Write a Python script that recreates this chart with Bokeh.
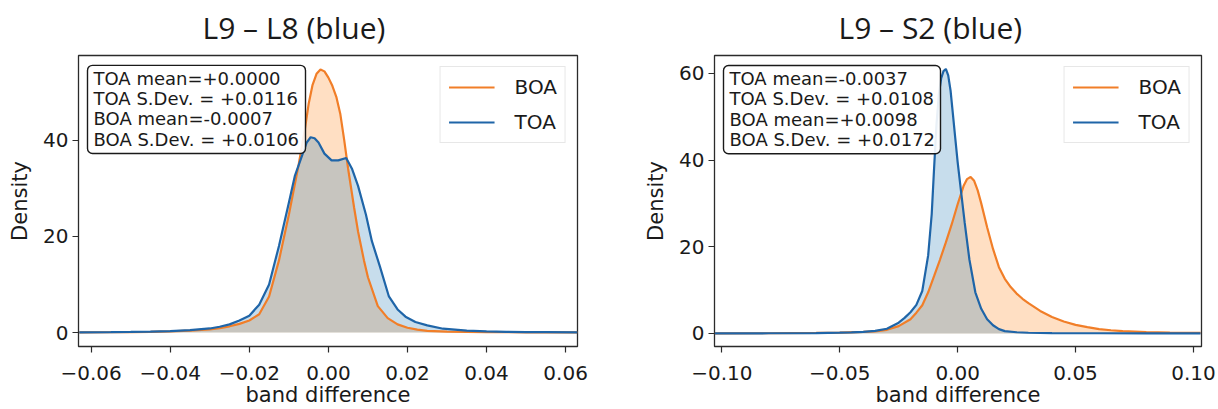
from bokeh.plotting import figure
from bokeh.models import Range1d, FixedTicker, CustomJSTickFormatter, Label, BoxAnnotation
from bokeh.layouts import row
from bokeh.embed import file_html
from bokeh.resources import INLINE

# ---------------- data ----------------
titles = ["L9 \u2013 L8 (blue)", "L9 \u2013 S2 (blue)"]
series_names = ["BOA", "TOA"]
x_label = "band difference"
y_label = "Density"

# Left panel: L9 - L8
l8_boa_x = [-0.063, -0.055, -0.05, -0.045, -0.04, -0.035, -0.03, -0.0275, -0.025, -0.0225,
            -0.02, -0.0175, -0.015, -0.0125, -0.01, -0.0075, -0.006, -0.005, -0.004, -0.003,
            -0.002, -0.001, 0.0, 0.001, 0.002, 0.003, 0.004, 0.005, 0.0065, 0.0075, 0.009,
            0.01, 0.0125, 0.015, 0.0175, 0.02, 0.0225, 0.025, 0.03, 0.035, 0.04, 0.05, 0.063]
l8_boa_y = [0.04, 0.07, 0.1, 0.16, 0.25, 0.4, 0.65, 0.9, 1.3, 1.8,
            2.5, 3.8, 7.5, 15.0, 24.5, 35.0, 42.0, 47.5, 51.5, 53.8,
            54.7, 54.3, 53.0, 51.3, 49.0, 45.5, 40.0, 34.0, 26.0, 21.0, 15.0,
            11.5, 5.5, 3.0, 1.7, 1.0, 0.6, 0.35, 0.2, 0.12, 0.08, 0.05, 0.03]
l8_toa_x = [-0.063, -0.055, -0.05, -0.045, -0.04, -0.035, -0.03, -0.0275, -0.025, -0.0225,
            -0.02, -0.0175, -0.015, -0.0125, -0.01, -0.0085, -0.007, -0.0055, -0.0045, -0.0035,
            -0.0025, -0.001, 0.0008, 0.0025, 0.0045, 0.006, 0.0075, 0.0095, 0.011, 0.013, 0.0153,
            0.0175, 0.0195, 0.022, 0.025, 0.029, 0.035, 0.04, 0.045, 0.05, 0.055, 0.063]
l8_toa_y = [0.05, 0.08, 0.12, 0.2, 0.3, 0.5, 0.85, 1.2, 1.7, 2.5,
            3.5, 5.8, 10.0, 18.0, 27.0, 32.5, 36.0, 39.5, 40.6, 40.4,
            39.5, 37.2, 35.8, 35.8, 36.3, 34.0, 30.5, 24.5, 19.0, 13.8, 7.5,
            4.8, 3.3, 2.2, 1.5, 0.8, 0.4, 0.25, 0.15, 0.1, 0.08, 0.05]

# Right panel: L9 - S2
s2_boa_x = [-0.103, -0.08, -0.06, -0.05, -0.04, -0.035, -0.03, -0.025, -0.02, -0.0175,
            -0.015, -0.0125, -0.01, -0.0075, -0.005, -0.0025, 0.0, 0.0025, 0.004, 0.0055,
            0.007, 0.0085, 0.01, 0.0125, 0.015, 0.0175, 0.02, 0.0225, 0.025, 0.0275, 0.03,
            0.035, 0.04, 0.045, 0.05, 0.055, 0.06, 0.065, 0.07, 0.08, 0.09, 0.103]
s2_boa_y = [0.03, 0.06, 0.12, 0.2, 0.35, 0.5, 0.85, 1.7, 3.3, 4.8,
            6.5, 9.5, 13.2, 17.0, 21.0, 25.2, 29.8, 34.0, 35.6, 36.1,
            35.2, 33.0, 30.0, 24.5, 19.5, 15.3, 12.6, 10.7, 9.2, 8.0, 7.0,
            5.2, 3.8, 2.75, 2.0, 1.45, 1.0, 0.75, 0.55, 0.32, 0.2, 0.12]
s2_toa_x = [-0.103, -0.08, -0.06, -0.05, -0.045, -0.04, -0.035, -0.03, -0.025, -0.0225,
            -0.02, -0.0175, -0.015, -0.0125, -0.011, -0.01, -0.009, -0.008, -0.007, -0.006,
            -0.005, -0.004, -0.003, -0.002, -0.001, 0.0, 0.0015, 0.003, 0.005, 0.0075,
            0.01, 0.0125, 0.015, 0.0175, 0.02, 0.025, 0.03, 0.04, 0.06, 0.08, 0.103]
s2_toa_y = [0.03, 0.05, 0.1, 0.18, 0.25, 0.38, 0.6, 1.1, 2.5, 3.6,
            4.9, 6.6, 9.8, 18.0, 27.5, 38.0, 48.0, 55.0, 58.8, 60.5,
            61.0, 59.5, 56.0, 50.5, 45.0, 39.5, 32.5, 25.5, 17.0, 9.5,
            5.7, 3.3, 1.9, 1.0, 0.55, 0.28, 0.17, 0.1, 0.05, 0.03, 0.02]

stats_l8 = ["TOA mean=+0.0000", "TOA S.Dev. = +0.0116", "BOA mean=-0.0007", "BOA S.Dev. = +0.0106"]
stats_s2 = ["TOA mean=-0.0037", "TOA S.Dev. = +0.0108", "BOA mean=+0.0098", "BOA S.Dev. = +0.0172"]

l8_xticks = [-0.06, -0.04, -0.02, 0.0, 0.02, 0.04, 0.06]
l8_yticks = [0, 20, 40]
s2_xticks = [-0.10, -0.05, 0.0, 0.05, 0.10]
s2_yticks = [0, 20, 40, 60]

l8_xrange = (-0.0632, 0.0630)
l8_yrange = (-2.9, 57.6)
s2_xrange = (-0.1031, 0.1034)
s2_yrange = (-3.0, 64.1)

# ---------------- styling ----------------
ORANGE = "#f17e28"
BLUE = "#1f65a8"
ORANGE_FILL = "#ff7f0e"
BLUE_FILL = "#1f77b4"
TICK_FONT = "DejaVu Sans"
TEXT = "#1a1a1a"


def make_panel(title, boa_x, boa_y, toa_x, toa_y, stats, xticks, yticks, xr, yr,
               width, border_l, border_r, border_t, title_offset, box_w):
    border_b = 409 - 348 + (1 if border_t == 53 else 0)
    p = figure(width=width, height=409, x_range=Range1d(*xr), y_range=Range1d(*yr),
               output_backend="svg", toolbar_location=None,
               min_border_left=border_l, min_border_right=border_r,
               min_border_top=border_t, min_border_bottom=border_b)
    p.background_fill_color = "white"
    p.border_fill_color = "white"
    p.grid.visible = False
    p.outline_line_color = "#2b2b2b"
    p.outline_line_width = 1.3

    p.title.text = title
    p.title.align = "left"
    p.title.offset = title_offset
    p.title.vertical_align = "top"
    p.title.text_font = "Open Sans"
    p.title.text_font_size = "30px"
    p.title.text_font_style = "normal"
    p.title.text_color = TEXT
    p.title.standoff = 11

    for ax in (p.xaxis[0], p.yaxis[0]):
        ax.axis_line_color = None
        ax.major_tick_line_color = "#2b2b2b"
        ax.major_tick_line_width = 1.2
        ax.major_tick_out = 6
        ax.major_tick_in = 0
        ax.minor_tick_line_color = None
        ax.major_label_text_font = TICK_FONT
        ax.major_label_text_font_size = "20px"
        ax.major_label_text_color = TEXT
        ax.axis_label_text_font = TICK_FONT
        ax.axis_label_text_font_size = "21px"
        ax.axis_label_text_font_style = "normal"
        ax.axis_label_text_color = TEXT

    p.xaxis.ticker = FixedTicker(ticks=xticks)
    p.yaxis.ticker = FixedTicker(ticks=yticks)
    p.xaxis.formatter = CustomJSTickFormatter(
        code="return (tick < -1e-9 ? '\\u2212' : '') + Math.abs(tick).toFixed(2);")
    p.yaxis.formatter = CustomJSTickFormatter(code="return Math.round(tick).toString();")
    p.xaxis.axis_label = x_label
    p.yaxis.axis_label = y_label
    p.xaxis.major_label_standoff = 13
    p.xaxis.axis_label_standoff = 0
    p.xaxis.axis_label_text_line_height = 0.75
    p.yaxis.major_label_standoff = 4
    p.yaxis.axis_label_standoff = 8

    # filled KDE areas
    p.varea(x=boa_x, y1=[0] * len(boa_x), y2=boa_y, fill_color=ORANGE_FILL, fill_alpha=0.25)
    p.varea(x=toa_x, y1=[0] * len(toa_x), y2=toa_y, fill_color=BLUE_FILL, fill_alpha=0.25)
    p.line(boa_x, boa_y, line_color=ORANGE, line_width=2.2, legend_label=series_names[0])
    p.line(toa_x, toa_y, line_color=BLUE, line_width=2.2, legend_label=series_names[1])

    lg = p.legend[0]
    lg.location = "top_right"
    lg.margin = 11
    lg.padding = 8
    lg.spacing = 11
    lg.glyph_width = 46
    lg.glyph_height = 20
    lg.label_height = 20
    lg.label_standoff = 20
    lg.label_text_font = TICK_FONT
    lg.label_text_font_size = "20px"
    lg.label_text_color = TEXT
    lg.border_line_color = "#d0d0d0"
    lg.border_line_width = 1
    lg.background_fill_alpha = 0.85

    # statistics box: positions given as pixel offsets from the frame's top-left corner
    fw = width - border_l - border_r
    fh = 409 - border_t - border_b

    def fx(px):
        return xr[0] + (px / fw) * (xr[1] - xr[0])

    def fy(py):
        return yr[1] - (py / fh) * (yr[1] - yr[0])

    p.add_layout(BoxAnnotation(left=fx(9), right=fx(9 + box_w), top=fy(10), bottom=fy(99),
                               fill_color="white", fill_alpha=0.9, line_color=TEXT,
                               line_alpha=1.0, line_width=1.4, border_radius=5))
    for i, line in enumerate(stats):
        p.add_layout(Label(x=fx(15), y=fy(23 + 20.5 * i), text=line,
                           text_align="left", text_baseline="middle",
                           text_font=TICK_FONT, text_font_size="18px", text_color=TEXT))
    return p


p1 = make_panel(titles[0], l8_boa_x, l8_boa_y, l8_toa_x, l8_toa_y, stats_l8,
                l8_xticks, l8_yticks, l8_xrange, l8_yrange, 609, 78, 32, 53, 124, 218)
p2 = make_panel(titles[1], s2_boa_x, s2_boa_y, s2_toa_x, s2_toa_y, stats_s2,
                s2_xticks, s2_yticks, s2_xrange, s2_yrange, 609, 105, 17, 55, 124, 217)

layout = row(p1, p2)
open("out.html", "w").write(file_html(layout, INLINE))
